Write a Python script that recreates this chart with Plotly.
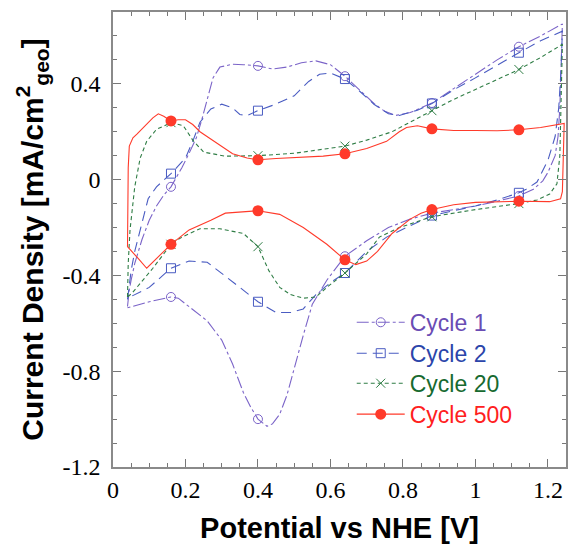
import plotly.graph_objects as go

# ---------------- data ----------------
marker_x = [0.16, 0.40, 0.64, 0.88, 1.12]

c1_an_x = [0.040, 0.045, 0.050, 0.060, 0.080, 0.100, 0.120, 0.140, 0.160, 0.190, 0.210, 0.230, 0.245, 0.260,
           0.276, 0.295, 0.330, 0.360, 0.400, 0.440, 0.480, 0.520, 0.560, 0.600, 0.640, 0.680, 0.720, 0.750,
           0.780, 0.820, 0.880, 0.940, 1.000, 1.060, 1.120, 1.180, 1.240]
c1_an_y = [-0.530, -0.460, -0.420, -0.350, -0.250, -0.170, -0.110, -0.065, -0.030, 0.050, 0.110, 0.175, 0.250,
           0.340, 0.425, 0.470, 0.482, 0.480, 0.475, 0.462, 0.470, 0.488, 0.496, 0.480, 0.432, 0.375, 0.318,
           0.285, 0.268, 0.280, 0.320, 0.380, 0.440, 0.500, 0.555, 0.600, 0.650]
c1_ca_x = [1.240, 1.237, 1.233, 1.228, 1.220, 1.200, 1.186, 1.160, 1.120, 1.060, 1.000, 0.940, 0.880, 0.820,
           0.760, 0.700, 0.640, 0.590, 0.550, 0.525, 0.500, 0.480, 0.460, 0.440, 0.425, 0.400, 0.380, 0.360,
           0.330, 0.300, 0.260, 0.210, 0.180, 0.160, 0.130, 0.100, 0.040]
c1_ca_y = [0.650, 0.450, 0.300, 0.180, 0.100, 0.030, -0.005, -0.040, -0.068, -0.090, -0.110, -0.125, -0.140,
           -0.165, -0.200, -0.255, -0.320, -0.420, -0.520, -0.650, -0.790, -0.900, -0.980, -1.020, -1.030,
           -1.000, -0.950, -0.890, -0.770, -0.670, -0.590, -0.530, -0.495, -0.490, -0.500, -0.510, -0.535]

c2_an_x = [0.040, 0.045, 0.050, 0.060, 0.075, 0.097, 0.120, 0.160, 0.200, 0.220, 0.240, 0.270, 0.300, 0.330,
           0.350, 0.370, 0.400, 0.440, 0.500, 0.540, 0.570, 0.600, 0.640, 0.680, 0.720, 0.760, 0.790, 0.840,
           0.880, 0.940, 1.000, 1.060, 1.120, 1.180, 1.240]
c2_an_y = [-0.500, -0.440, -0.380, -0.300, -0.210, -0.080, -0.030, 0.025, 0.090, 0.160, 0.240, 0.295, 0.315,
           0.300, 0.272, 0.268, 0.288, 0.310, 0.350, 0.410, 0.440, 0.445, 0.420, 0.370, 0.315, 0.275, 0.268,
           0.290, 0.318, 0.375, 0.425, 0.478, 0.530, 0.580, 0.620]
c2_ca_x = [1.240, 1.236, 1.230, 1.220, 1.200, 1.170, 1.140, 1.120, 1.060, 1.000, 0.940, 0.880, 0.810, 0.755,
           0.700, 0.640, 0.600, 0.560, 0.525, 0.490, 0.450, 0.400, 0.350, 0.300, 0.260, 0.210, 0.160, 0.100,
           0.047, 0.040]
c2_ca_y = [0.620, 0.450, 0.300, 0.180, 0.080, -0.010, -0.040, -0.055, -0.085, -0.110, -0.130, -0.150, -0.200,
           -0.240, -0.300, -0.390, -0.430, -0.480, -0.540, -0.555, -0.555, -0.510, -0.450, -0.390, -0.345,
           -0.340, -0.370, -0.450, -0.490, -0.500]

c20_an_x = [0.040, 0.042, 0.047, 0.060, 0.075, 0.093, 0.120, 0.160, 0.194, 0.220, 0.250, 0.310, 0.400, 0.500,
            0.640, 0.700, 0.770, 0.840, 0.880, 0.940, 1.000, 1.060, 1.120, 1.180, 1.240]
c20_an_y = [-0.490, -0.350, -0.210, -0.030, 0.090, 0.160, 0.210, 0.238, 0.225, 0.165, 0.115, 0.098, 0.100,
            0.110, 0.140, 0.165, 0.200, 0.258, 0.288, 0.335, 0.375, 0.418, 0.460, 0.510, 0.565]
c20_ca_x = [1.240, 1.237, 1.233, 1.225, 1.205, 1.170, 1.120, 1.000, 0.880, 0.790, 0.735, 0.700, 0.640, 0.590,
            0.560, 0.525, 0.490, 0.460, 0.430, 0.400, 0.360, 0.295, 0.240, 0.190, 0.160, 0.110, 0.083, 0.052,
            0.040]
c20_ca_y = [0.565, 0.300, 0.100, -0.017, -0.060, -0.085, -0.100, -0.125, -0.155, -0.200, -0.240, -0.310,
            -0.390, -0.450, -0.490, -0.495, -0.480, -0.450, -0.380, -0.280, -0.225, -0.205, -0.205, -0.240,
            -0.270, -0.370, -0.420, -0.475, -0.490]

c500_an_x = [0.040, 0.041, 0.042, 0.045, 0.055, 0.066, 0.093, 0.110, 0.125, 0.140, 0.160, 0.180, 0.200, 0.220,
             0.240, 0.287, 0.330, 0.370, 0.400, 0.450, 0.500, 0.580, 0.640, 0.700, 0.755, 0.790, 0.810, 0.840,
             0.880, 0.940, 1.000, 1.060, 1.120, 1.180, 1.245]
c500_an_y = [-0.280, -0.100, 0.050, 0.140, 0.175, 0.190, 0.230, 0.258, 0.275, 0.265, 0.245, 0.250, 0.250,
             0.230, 0.200, 0.150, 0.108, 0.090, 0.083, 0.088, 0.092, 0.098, 0.108, 0.130, 0.160, 0.200, 0.218,
             0.225, 0.212, 0.205, 0.205, 0.204, 0.208, 0.218, 0.235]
c500_ca_x = [1.245, 1.243, 1.240, 1.235, 1.205, 1.120, 1.000, 0.940, 0.880, 0.850, 0.820, 0.770, 0.730, 0.700,
             0.670, 0.640, 0.590, 0.525, 0.460, 0.400, 0.310, 0.270, 0.210, 0.160, 0.120, 0.093, 0.070, 0.040]
c500_ca_y = [0.235, 0.100, -0.050, -0.080, -0.092, -0.090, -0.095, -0.105, -0.125, -0.140, -0.165, -0.225,
             -0.300, -0.340, -0.355, -0.335, -0.270, -0.200, -0.145, -0.130, -0.140, -0.170, -0.210, -0.270,
             -0.330, -0.370, -0.330, -0.280]

x_tickvals = [0, 0.2, 0.4, 0.6, 0.8, 1.0, 1.2]
x_ticktext = ["0", "0.2", "0.4", "0.6", "0.8", "1", "1.2"]
y_tickvals = [-1.2, -0.8, -0.4, 0, 0.4]
y_ticktext = ["-1.2", "-0.8", "-0.4", "0", "0.4"]

series = [
    dict(name="Cycle 1", an=(c1_an_x, c1_an_y), ca=(c1_ca_x, c1_ca_y), color="#7b64c8", text="#6a4cb4",
         dash="12px,3px,3px,3px", symbol="circle-open", size=9, mline=1),
    dict(name="Cycle 2", an=(c2_an_x, c2_an_y), ca=(c2_ca_x, c2_ca_y), color="#4a5cc2", text="#2b45aa",
         dash="10px,6px", symbol="square-open", size=9, mline=1),
    dict(name="Cycle 20", an=(c20_an_x, c20_an_y), ca=(c20_ca_x, c20_ca_y), color="#2f7d45", text="#176a30",
         dash="4px,3px", symbol="x-thin-open", size=9, mline=1),
    dict(name="Cycle 500", an=(c500_an_x, c500_an_y), ca=(c500_ca_x, c500_ca_y), color="#ff3a2a", text="#ff2020",
         dash="solid", symbol="circle", size=11, mline=0),
]


def pick_markers(xs, ys):
    mx, my = [], []
    for xv, yv in zip(xs, ys):
        if any(abs(xv - m) < 1e-9 for m in marker_x):
            mx.append(xv)
            my.append(yv)
    return mx, my


fig = go.Figure()
for s in series:
    ax, ay = s["an"]
    cx, cy = s["ca"]
    fig.add_trace(go.Scatter(x=ax + cx, y=ay + cy, mode="lines",
                             line=dict(color=s["color"], width=1.1, dash=s["dash"]),
                             showlegend=False, hoverinfo="skip"))
    m1x, m1y = pick_markers(ax, ay)
    m2x, m2y = pick_markers(cx, cy)
    mk = dict(symbol=s["symbol"], size=s["size"], color=s["color"],
              line=dict(color=s["color"], width=s["mline"]))
    fig.add_trace(go.Scatter(x=m1x + m2x, y=m1y + m2y, mode="markers", marker=mk,
                             showlegend=False, hoverinfo="skip"))

legend_names = ["legend", "legend2", "legend3", "legend4"]
legend_rows_y = [0.318, 0.250, 0.184, 0.116]
legend_layout = {}
for s, lname, ly in zip(series, legend_names, legend_rows_y):
    mk = dict(symbol=s["symbol"], size=s["size"], color=s["color"],
              line=dict(color=s["color"], width=s["mline"]))
    fig.add_trace(go.Scatter(x=[None], y=[None], mode="lines+markers", name=s["name"], legend=lname,
                             line=dict(color=s["color"], width=1.1, dash=s["dash"]), marker=mk))
    legend_layout[lname] = dict(x=0.527, y=ly, xanchor="left", yanchor="middle", bgcolor="rgba(0,0,0,0)",
                                font=dict(family="Liberation Sans, Arial, sans-serif", size=23, color=s["text"]),
                                itemwidth=48)

serif = "Liberation Serif, Times New Roman, serif"
axis_common = dict(showline=True, linecolor="#8a8a8a", linewidth=1.5, mirror="ticks",
                   ticks="inside", ticklen=8, tickwidth=1, tickcolor="#777777",
                   showgrid=False, zeroline=False,
                   tickfont=dict(family=serif, size=24, color="black"))

fig.update_xaxes(range=[0, 1.25], tickvals=x_tickvals, ticktext=x_ticktext,
                 minor=dict(dtick=0.05, tick0=0, ticks="inside", ticklen=4, tickcolor="#777777", showgrid=False),
                 title=dict(text="<b>Potential vs NHE [V]</b>", standoff=20,
                            font=dict(family="Liberation Sans, Arial, sans-serif", size=29, color="black")),
                 ticklabelstandoff=0, **axis_common)
fig.update_yaxes(range=[-1.2, 0.7], tickvals=y_tickvals, ticktext=y_ticktext,
                 minor=dict(dtick=0.1, tick0=0, ticks="inside", ticklen=4, tickcolor="#777777", showgrid=False),
                 title=dict(text="<b>Current Density [mA/cm<sup>2</sup><sub>geo</sub>]</b>", standoff=10,
                            font=dict(family="Liberation Sans, Arial, sans-serif", size=30, color="black")),
                 ticklabelstandoff=6, **axis_common)

fig.update_layout(
    width=568, height=544,
    margin=dict(l=113, r=2, t=12, b=77, autoexpand=False),
    paper_bgcolor="white", plot_bgcolor="white",
    **legend_layout,
)

fig.write_html("out.html")
